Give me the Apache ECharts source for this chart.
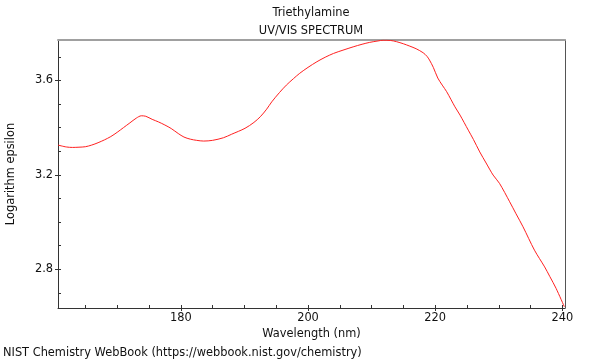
<!DOCTYPE html>
<html>
<head>
<meta charset="utf-8">
<script src="https://cdn.jsdelivr.net/npm/echarts@6/dist/echarts.min.js"></script>
<style>html,body{margin:0;padding:0;background:#fff}#c{width:600px;height:360px}</style>
</head>
<body>
<div id="c"></div>
<script>
const wavelength = [160.7, 162, 163, 164, 165, 166, 167, 168, 169, 170, 171, 172, 173, 173.8, 174.5, 175.5, 176.5, 177.5, 178.5, 179.6, 180.5, 181.5, 182.5, 183.6, 185, 186.7, 188, 190.1, 191.5, 192.5, 193.5, 194.3, 195.5, 196.6, 197.7, 198.7, 200, 201.4, 202.7, 204, 205.5, 207.1, 208.5, 209.7, 211, 211.8, 213, 213.9, 215, 216, 217, 218.1, 218.7, 219.1, 219.7, 220.4, 221.1, 221.8, 223.1, 223.9, 225.2, 226, 227, 228, 229.1, 230.1, 231.7, 232.7, 233.8, 235.6, 237.2, 238, 239, 240.3];
const logEpsilon = [3.326, 3.318, 3.316, 3.317, 3.319, 3.326, 3.336, 3.348, 3.362, 3.380, 3.400, 3.420, 3.440, 3.450, 3.448, 3.435, 3.424, 3.411, 3.396, 3.375, 3.360, 3.351, 3.346, 3.343, 3.346, 3.357, 3.372, 3.397, 3.422, 3.446, 3.478, 3.509, 3.548, 3.580, 3.607, 3.630, 3.655, 3.679, 3.698, 3.714, 3.728, 3.742, 3.753, 3.761, 3.767, 3.770, 3.769, 3.764, 3.755, 3.745, 3.734, 3.717, 3.702, 3.686, 3.655, 3.610, 3.580, 3.552, 3.488, 3.453, 3.389, 3.350, 3.297, 3.250, 3.199, 3.164, 3.086, 3.035, 2.980, 2.881, 2.810, 2.770, 2.719, 2.641];
const xMajorTicks = [180, 200, 220, 240];
const xMinorTicks = [165, 170, 175, 180, 185, 190, 195, 200, 205, 210, 215, 220, 225, 230, 235, 240];
const yMajorTicks = [2.8, 3.2, 3.6];
const yMinorTicks = [2.7, 2.8, 2.9, 3.0, 3.1, 3.2, 3.3, 3.4, 3.5, 3.6, 3.7];
const xRange = [160.7, 240.4];
const yRange = [2.636, 3.771];

const font = 'DejaVu Sans';
const fs = 11.4;
const txt = {fontFamily: font, fontSize: fs, color: '#111', fontWeight: 'normal'};
const chart = echarts.init(document.getElementById('c'), null, {renderer: 'canvas'});
chart.setOption({
  animation: false,
  backgroundColor: '#fff',
  title: [
    {text: 'Triethylamine', left: 311, top: 8, padding: 0, textAlign: 'center', textStyle: txt},
    {text: 'UV/VIS SPECTRUM', left: 311, top: 26, padding: 0, textAlign: 'center', textStyle: txt},
    {text: 'NIST Chemistry WebBook (https://webbook.nist.gov/chemistry)', left: 3, top: 348, padding: 0, textStyle: txt}
  ],
  grid: {left: 58, right: 35, top: 40, bottom: 52, show: false, outerBoundsMode: 'none', containLabel: false},
  xAxis: [
    {type: 'value', min: xRange[0], max: xRange[1], position: 'bottom',
     name: 'Wavelength (nm)', nameLocation: 'middle', nameGap: 18, nameTextStyle: txt,
     axisLine: {show: true, lineStyle: {color: '#333', width: 1}},
     axisTick: {show: true, inside: false, length: 3, customValues: xMajorTicks, lineStyle: {color: '#333'}},
     axisLabel: {show: true, customValues: xMajorTicks, margin: 5, fontFamily: font, fontSize: fs, color: '#111'},
     splitLine: {show: false}},
    {type: 'value', min: xRange[0], max: xRange[1], position: 'bottom',
     axisLine: {show: false},
     axisTick: {show: true, inside: true, length: 3, customValues: xMinorTicks, lineStyle: {color: '#333'}},
     axisLabel: {show: false}, splitLine: {show: false}},
    {type: 'value', min: xRange[0], max: xRange[1], position: 'top',
     axisLine: {show: true, lineStyle: {color: '#a0a0a0', width: 2}},
     axisTick: {show: false}, axisLabel: {show: false}, splitLine: {show: false}}
  ],
  yAxis: [
    {type: 'value', min: yRange[0], max: yRange[1], position: 'left',
     name: 'Logarithm epsilon', nameLocation: 'middle', nameGap: 41, nameTextStyle: txt,
     axisLine: {show: true, lineStyle: {color: '#333', width: 1}},
     axisTick: {show: true, inside: false, length: 3, customValues: yMajorTicks, lineStyle: {color: '#333'}},
     axisLabel: {show: true, customValues: yMajorTicks, margin: 5, fontFamily: font, fontSize: fs, color: '#111',
                 formatter: v => v.toFixed(1)},
     splitLine: {show: false}},
    {type: 'value', min: yRange[0], max: yRange[1], position: 'left',
     axisLine: {show: false},
     axisTick: {show: true, inside: true, length: 3, customValues: yMinorTicks, lineStyle: {color: '#333'}},
     axisLabel: {show: false}, splitLine: {show: false}},
    {type: 'value', min: yRange[0], max: yRange[1], position: 'right',
     axisLine: {show: true, lineStyle: {color: '#555', width: 1}},
     axisTick: {show: false}, axisLabel: {show: false}, splitLine: {show: false}}
  ],
  series: [{
    type: 'line', xAxisIndex: 0, yAxisIndex: 0,
    data: wavelength.map((w, i) => [w, logEpsilon[i]]),
    showSymbol: false, smooth: 0.3,
    lineStyle: {color: '#ff2020', width: 1},
    clip: true
  }]
});
</script>
</body>
</html>
